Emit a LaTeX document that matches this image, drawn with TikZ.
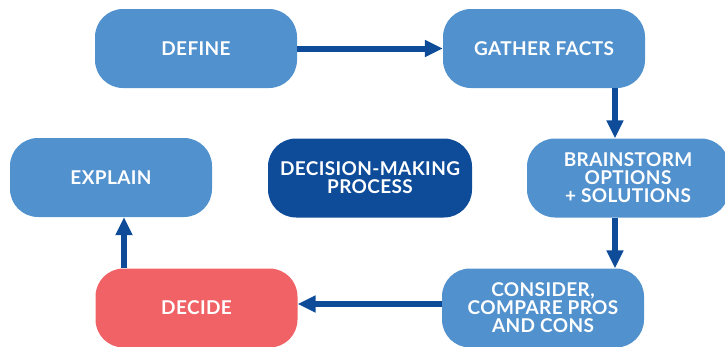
\documentclass[tikz,border=0pt]{standalone}
\usepackage{fontspec}
\setmainfont{Lato}[LetterSpace=2]
\usetikzlibrary{arrows.meta}
\definecolor{lblue}{RGB}{81,145,205}
\definecolor{dblue}{RGB}{14,76,154}
\definecolor{rred}{RGB}{240,98,102}
\tikzset{
  box/.style={rectangle, rounded corners=28pt, minimum width=202pt, minimum height=79pt,
    fill=lblue, text=white, align=center, inner sep=0pt,
    font=\fontsize{19}{18}\selectfont\bfseries},
  arr/.style={draw=dblue, line width=6pt, -{Triangle[length=18pt,width=16pt]}}
}
\begin{document}
\begin{tikzpicture}[x=1pt,y=-1pt]
\useasboundingbox (0,0) rectangle (725,346);
\node[box] (define) at (196,48.5) {DEFINE};
\node[box] (gather) at (544,48.5) {GATHER FACTS};
\node[box] (brain) at (628,178) {BRAINSTORM\\OPTIONS\\+ SOLUTIONS};
\node[box] (consider) at (543,308) {CONSIDER,\\COMPARE PROS\\AND CONS};
\node[box, fill=rred] (decide) at (196.5,308) {DECIDE};
\node[box] (explain) at (111,177.5) {EXPLAIN};
\node[box, fill=dblue, minimum width=204pt] (center) at (370,178) {DECISION-MAKING\\PROCESS};
\coordinate (cx) at (615,0);
\coordinate (cy) at (0,304);
\coordinate (dx) at (124,0);
\draw[arr] (define.east) -- (gather.west);
\draw[arr] (gather.south -| cx) -- (brain.north -| cx);
\draw[arr] (brain.south -| cx) -- (consider.north -| cx);
\draw[arr] (consider.west |- cy) -- (decide.east |- cy);
\draw[arr] (decide.north -| dx) -- (explain.south -| dx);
\end{tikzpicture}
\end{document}
